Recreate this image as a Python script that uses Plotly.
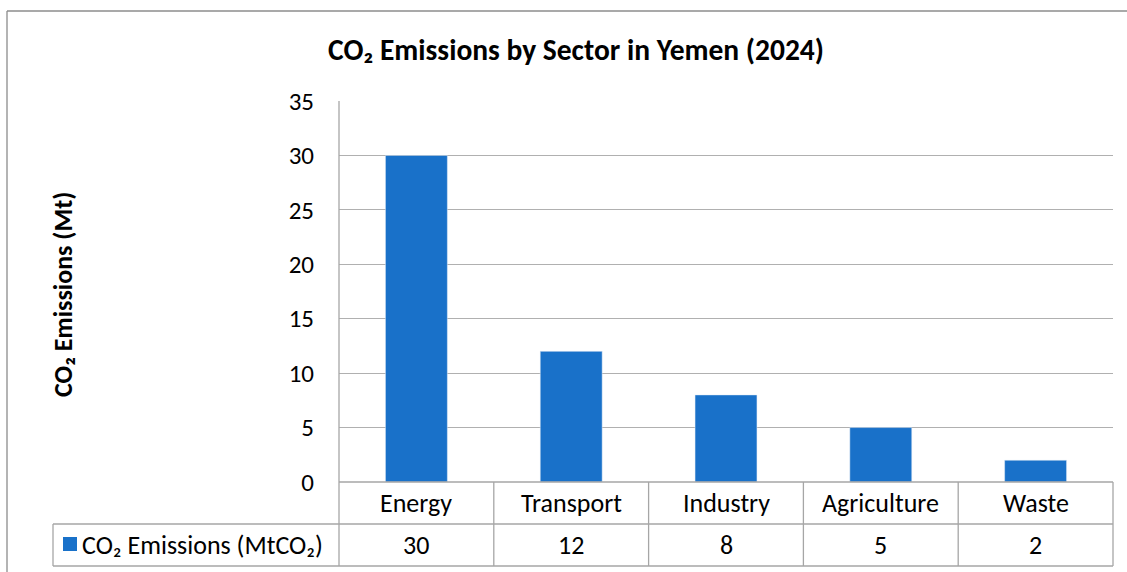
import plotly.graph_objects as go

categories = ["Energy", "Transport", "Industry", "Agriculture", "Waste"]
values = [30, 12, 8, 5, 2]
series_name = "CO₂ Emissions (MtCO₂)"
title_text = "<b>CO₂ Emissions by Sector in Yemen (2024)</b>"
y_title = "<b>CO₂ Emissions (Mt)</b>"
y_ticks = [0, 5, 10, 15, 20, 25, 30, 35]

W, H = 1127, 572
FONT = "Carlito, Calibri, Lato, sans-serif"
BAR = "#1971C9"
GRID = "#B0B0B0"
TBL = "#A6A6A6"
FS = 26

def px(x):
    return x / W

def py(y):
    return 1 - y / H

X0, X1 = 339, 1113
Y_TOP, Y_BOT = 101, 482
ROW1, ROW2 = 524, 566
TBL_LEFT = 53

fig = go.Figure()
fig.add_trace(go.Bar(x=categories, y=values, marker_color=BAR, width=0.4,
                     name=series_name, showlegend=False, hoverinfo="x+y"))

shapes = []
def line(x0, y0, x1, y1, color=TBL):
    shapes.append(dict(type="line", xref="paper", yref="paper", x0=x0, x1=x1,
                       y0=y0, y1=y1, line=dict(color=color, width=1.3)))

# outer chart border
line(px(7), py(11), px(W + 5), py(11), color="#8C8C8C")
line(px(7), py(11), px(7), py(H + 5), color="#8C8C8C")
# table horizontal lines
line(px(X0), py(Y_BOT), px(X1), py(Y_BOT))
line(px(TBL_LEFT), py(ROW1), px(X1), py(ROW1))
line(px(TBL_LEFT), py(ROW2), px(X1), py(ROW2))
# verticals
line(px(TBL_LEFT), py(ROW1), px(TBL_LEFT), py(ROW2))
line(px(X0), py(Y_TOP), px(X0), py(ROW2))
line(px(X1), py(Y_BOT), px(X1), py(ROW2))
for i in range(len(categories) - 1):
    shapes.append(dict(type="line", xref="x", yref="paper", x0=i + 0.5, x1=i + 0.5,
                       y0=py(Y_BOT), y1=py(ROW2), line=dict(color=TBL, width=1.3)))
# legend key
shapes.append(dict(type="rect", xref="paper", yref="paper", x0=px(63), x1=px(77),
                   y0=py(551), y1=py(537), fillcolor=BAR, line=dict(width=0)))

annotations = []
for c, v in zip(categories, values):
    annotations.append(dict(x=c, y=py((Y_BOT + ROW1) / 2), xref="x", yref="paper",
                            text=c, showarrow=False, font=dict(size=FS, color="#000", family=FONT),
                            xanchor="center", yanchor="middle"))
    annotations.append(dict(x=c, y=py((ROW1 + ROW2) / 2), xref="x", yref="paper",
                            text=str(v), showarrow=False, font=dict(size=FS, color="#000", family=FONT),
                            xanchor="center", yanchor="middle"))
annotations.append(dict(x=px(80), y=py((ROW1 + ROW2) / 2), xref="paper", yref="paper",
                        text=series_name, showarrow=False, xanchor="left", yanchor="middle",
                        font=dict(size=FS, color="#000", family=FONT)))
annotations.append(dict(x=px(63), y=py(295), xref="paper", yref="paper", text=y_title,
                        textangle=-90, showarrow=False, xanchor="center", yanchor="middle",
                        font=dict(size=26, color="#000", family=FONT)))

fig.update_layout(
    width=W, height=H,
    margin=dict(l=0, r=0, t=0, b=0, pad=0, autoexpand=False),
    paper_bgcolor="white", plot_bgcolor="white",
    title=dict(text=title_text, x=576 / W, y=py(50), xanchor="center", yanchor="middle",
               font=dict(size=29.5, color="#000", family=FONT)),
    xaxis=dict(domain=[px(X0), px(X1)], showticklabels=False, showgrid=False,
               zeroline=False, showline=False, ticks="", automargin=False),
    yaxis=dict(domain=[py(Y_BOT), py(Y_TOP)], range=[0, 35], tickvals=y_ticks,
               showgrid=True, gridcolor=GRID, gridwidth=1.3, zeroline=False,
               showline=False, ticks="", ticklabelstandoff=24, automargin=False,
               tickfont=dict(size=25, color="#000", family=FONT)),
    shapes=shapes, annotations=annotations, bargap=0.6,
)

fig.write_html("out.html", config={"displayModeBar": False},
               post_script="document.body.style.margin='0';")
